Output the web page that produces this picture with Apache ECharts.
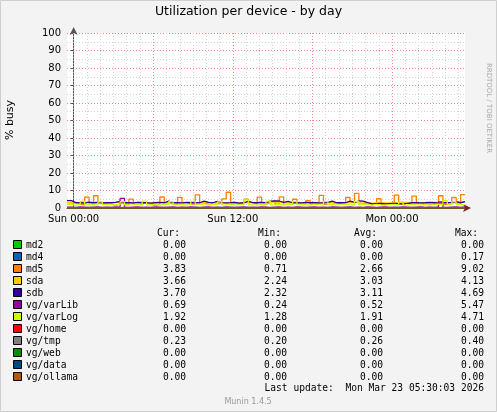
<!DOCTYPE html>
<html><head><meta charset="utf-8">
<script src="https://cdn.jsdelivr.net/npm/echarts@6/dist/echarts.min.js"></script>
<style>html,body{margin:0;padding:0;background:#f3f3f3}#c{width:497px;height:412px}</style>
</head><body><div id="c"></div>
<script>
// minutes relative to Sun 00:00, samples every 20 min starting at -30
const startMin = -30, stepMin = 20;
const md5 = [2.1,3.0,2.2,1.8,6.2,2.4,7.0,3.1,2.0,2.3,1.5,2.2,3.2,2.0,5.1,2.4,2.2,3.0,2.1,1.4,2.3,6.3,3.0,2.2,2.0,6.1,3.0,2.4,2.1,7.5,3.0,2.2,2.1,2.4,3.0,5.2,9.0,3.0,2.1,2.3,5.0,3.1,2.2,6.2,2.0,3.0,4.1,2.2,6.4,2.1,2.3,5.0,3.0,2.4,4.2,2.1,3.1,7.2,2.2,2.0,3.0,2.4,2.1,6.0,3.2,8.4,2.2,3.0,2.1,2.2,5.3,2.0,2.4,3.1,7.4,2.2,3.0,2.1,6.8,3.0,2.2,2.4,2.0,3.2,7.0,2.1,2.3,6.0,3.0,7.6];
const sdb = [4.2,3.1,3.0,2.8,3.3,3.0,3.2,2.9,3.1,3.0,3.2,3.8,3.0,3.1,2.9,3.2,3.0,3.1,2.8,3.0,3.2,3.0,3.9,3.1,3.0,2.9,3.2,3.0,3.1,3.0,3.9,3.2,3.0,3.8,3.1,2.9,3.0,3.2,2.8,3.0,3.8,3.1,3.0,3.2,3.0,3.9,4.1,4.0,3.2,3.8,3.0,3.1,2.9,3.2,3.0,3.1,2.9,3.0,3.2,3.9,3.0,3.1,3.0,3.9,3.2,4.0,3.9,3.1,2.4,2.5,2.6,2.4,2.5,2.6,2.5,2.4,2.6,3.0,3.1,2.9,3.0,3.2,3.0,2.8,3.1,3.0,3.2,3.7,3.0,3.7];
const sda = [3.0,2.9,3.1,3.0,3.2,2.8,3.0,3.1,2.9,3.0,3.2,3.0,3.1,2.9,3.0,3.2,3.0,2.8,3.1,3.0,3.2,3.0,2.9,3.1,3.0,2.8,3.2,3.0,3.1,2.9,3.0,3.2,3.0,3.1,2.9,3.0,3.2,3.0,2.8,3.1,3.0,3.2,3.0,2.9,3.1,3.0,3.3,3.1,3.0,3.2,3.0,2.9,3.1,3.0,3.2,3.0,2.8,3.1,3.0,3.2,3.0,2.9,3.1,3.0,3.2,3.0,2.9,3.1,2.8,3.0,3.2,3.0,2.9,3.1,3.0,3.2,3.0,2.9,3.1,3.0,3.2,3.0,2.9,3.1,3.0,3.2,3.0,2.9,3.1,3.7];
const varLog = [1.9,1.6,2.2,3.8,1.8,2.0,1.7,3.5,1.9,2.1,1.6,2.0,3.6,1.8,1.9,2.2,1.7,3.9,1.8,2.0,1.6,2.1,1.9,3.7,1.8,2.0,1.7,1.9,3.8,2.1,1.8,1.6,2.0,1.9,3.5,1.8,2.2,1.7,1.9,2.0,4.7,1.8,1.6,2.1,1.9,3.9,1.8,2.0,1.7,2.2,1.9,3.6,1.8,2.0,1.6,2.1,1.9,1.8,3.7,2.0,1.7,1.9,2.2,1.8,1.6,3.8,2.0,1.9,1.7,2.1,1.8,1.6,1.9,2.0,1.8,3.5,1.7,2.1,1.9,1.8,2.0,1.6,1.9,2.2,1.8,4.2,1.9,3.6,2.0,1.9];
const varLib = [0.5,0.4,0.6,0.5,0.4,0.5,0.6,0.4,0.5,0.4,0.6,0.5,5.5,0.4,0.5,0.6,0.4,0.5,0.4,0.6,0.5,0.4,0.5,0.6,0.4,0.5,0.4,0.6,0.5,0.4,0.5,0.6,0.4,0.5,0.4,0.6,0.5,0.4,0.5,0.6,0.4,0.5,0.4,0.6,0.5,0.4,0.5,0.6,0.4,0.5,0.4,0.6,0.5,0.4,0.5,0.6,0.4,0.5,0.4,0.6,0.5,0.4,0.5,0.6,0.4,0.5,0.4,0.6,0.5,0.4,0.5,0.6,0.4,0.5,0.4,0.6,0.5,0.4,0.5,0.6,0.4,0.5,0.4,0.6,3.5,0.4,0.5,0.6,0.4,0.7];
const vgTmp = [0.3,0.2,0.3,0.2,0.3,0.3,0.2,0.3,0.2,0.3,0.2,0.3,0.3,0.2,0.3,0.2,0.3,0.2,0.3,0.3,0.2,0.3,0.2,0.3,0.2,0.3,0.3,0.2,0.3,0.2,0.3,0.2,0.3,0.3,0.2,0.3,0.2,0.3,0.2,0.3,0.3,0.2,0.3,0.2,0.3,0.2,0.3,0.3,0.2,0.3,0.2,0.3,0.2,0.3,0.3,0.2,0.3,0.2,0.3,0.2,0.3,0.3,0.2,0.3,0.2,0.3,0.2,0.3,0.3,0.2,0.3,0.2,0.3,0.2,0.3,0.3,0.2,0.3,0.2,0.3,0.2,0.3,0.3,0.2,0.3,0.2,0.3,0.2,0.3,0.2];
const zeroSeries = [0,0];
const names = ['md2','md4','md5','sda','sdb','vg/varLib','vg/varLog','vg/home','vg/tmp','vg/web','vg/data','vg/ollama'];
const colors = ['#00CC00','#0066B3','#FF8000','#FFCC00','#330099','#990099','#CCFF00','#FF0000','#808080','#008F00','#00487D','#B35A00'];
const curV = ['0.00','0.00','3.83','3.66','3.70','0.69','1.92','0.00','0.23','0.00','0.00','0.00'];
const minV = ['0.00','0.00','0.71','2.24','2.32','0.24','1.28','0.00','0.20','0.00','0.00','0.00'];
const avgV = ['0.00','0.00','2.66','3.03','3.11','0.52','1.91','0.00','0.26','0.00','0.00','0.00'];
const maxV = ['0.00','0.17','9.02','4.13','4.69','5.47','4.71','0.00','0.40','0.00','0.00','0.00'];
const xLabelVals = [0,720,1440];
const xLabelText = {0:'Sun 00:00',720:'Sun 12:00',1440:'Mon 00:00'};
const hourLines = [];  for (let h=0; h<=29; h++) hourLines.push(h*60);
const endMin = 1770;

const seriesData = {'md5':md5,'sda':sda,'sdb':sdb,'vg/varLib':varLib,'vg/varLog':varLog,'vg/tmp':vgTmp};
function toPairs(arr){
  if (arr===zeroSeries) return [[startMin,0],[endMin,0]];
  const p = arr.map((v,i)=>[startMin+i*stepMin, v]);
  p.push([endMin, arr[arr.length-1]]);
  return p;
}
const series = names.map((n,i)=>({
  name:n, type:'line', step:'end', symbol:'none', animation:false,
  lineStyle:{width:1.3,color:colors[i]}, itemStyle:{color:colors[i]},
  data: toPairs(seriesData[n] || zeroSeries), z: 3+i
}));
series.unshift({
  type:'line', data:[], silent:true, animation:false,
  markLine:{symbol:'none', silent:true, label:{show:false}, animation:false,
    data: hourLines.map(m=>({xAxis:m, lineStyle:{color: m%360===0 ? '#f08a8a':'#d4d4d4', type:[1,2], width:1}}))}
});

const mono = 'DejaVu Sans Mono';
const g = [];
g.push({type:'text', left:'center', top:5, style:{text:'Utilization per device - by day', font:'12.5px "DejaVu Sans"', fill:'#000'}});
g.push({type:'text', x:10, y:120, rotation:Math.PI/2, style:{text:'% busy', font:'11px "DejaVu Sans"', fill:'#000', align:'center', verticalAlign:'middle'}});
g.push({type:'text', x:489, y:108, rotation:-Math.PI/2, style:{text:'RRDTOOL / TOBI OETIKER', font:'7px "DejaVu Sans"', fill:'#aaa', align:'center', verticalAlign:'middle'}});
const cols=[186,287,383,484], heads=['Cur:','Min:','Avg:','Max:'];
heads.forEach((h,i)=>g.push({type:'text', x:cols[i]-6, y:233, style:{text:h, font:'9.6px '+mono, fill:'#000', align:'right', verticalAlign:'middle'}}));
names.forEach((n,r)=>{
  const y = 245 + r*12;
  g.push({type:'rect', shape:{x:13.5,y:y-4.5,width:8,height:8}, style:{fill:colors[r], stroke:'#000', lineWidth:1}});
  g.push({type:'text', x:26, y:y, style:{text:n, font:'9.6px '+mono, fill:'#000', verticalAlign:'middle'}});
  [curV,minV,avgV,maxV].forEach((a,i)=>g.push({type:'text', x:cols[i], y:y, style:{text:a[r], font:'9.6px '+mono, fill:'#000', align:'right', verticalAlign:'middle'}}));
});
g.push({type:'text', x:484, y:388, style:{text:'Last update:  Mon Mar 23 05:30:03 2026', font:'9.6px '+mono, fill:'#000', align:'right', verticalAlign:'middle'}});
g.push({type:'text', x:248, y:402, style:{text:'Munin 1.4.5', font:'8px "DejaVu Sans"', fill:'#999', align:'center', verticalAlign:'middle'}});
g.push({type:'rect', shape:{x:0.5,y:0.5,width:496,height:411}, style:{fill:'none', stroke:'#cfcfcf', lineWidth:1}, silent:true});

const chart = echarts.init(document.getElementById('c'), null, {renderer:'canvas'});
chart.setOption({
  backgroundColor:'#f3f3f3', animation:false,
  grid:{left:67, right:32, top:33, bottom:204, backgroundColor:'#fff', show:true, borderWidth:0},
  xAxis:{type:'value', min:startMin, max:endMin,
    axisLine:{show:true, onZero:false, symbol:['none','arrow'], symbolSize:[6,8], symbolOffset:[0,6], lineStyle:{color:'#7a2020',width:1}},
    axisTick:{show:false}, splitLine:{show:false},
    axisLabel:{customValues:xLabelVals, formatter:v=>xLabelText[v]||'', color:'#000', fontFamily:'DejaVu Sans', fontSize:10, margin:6, showMinLabel:true}},
  yAxis:{type:'value', min:0, max:100, interval:10,
    axisLine:{show:true, symbol:['none','arrow'], symbolSize:[6,8], symbolOffset:[0,6], lineStyle:{color:'#555',width:1}},
    axisTick:{show:true, length:3, lineStyle:{color:'#555'}},
    axisLabel:{color:'#000', fontFamily:'DejaVu Sans', fontSize:10, margin:6},
    splitLine:{show:true, lineStyle:{color:'#f08a8a', type:[1,2]}},
    minorTick:{show:false, splitNumber:2}, minorSplitLine:{show:true, lineStyle:{color:'#d4d4d4', type:[1,2]}}},
  series: series,
  graphic: g
});
</script></body></html>
